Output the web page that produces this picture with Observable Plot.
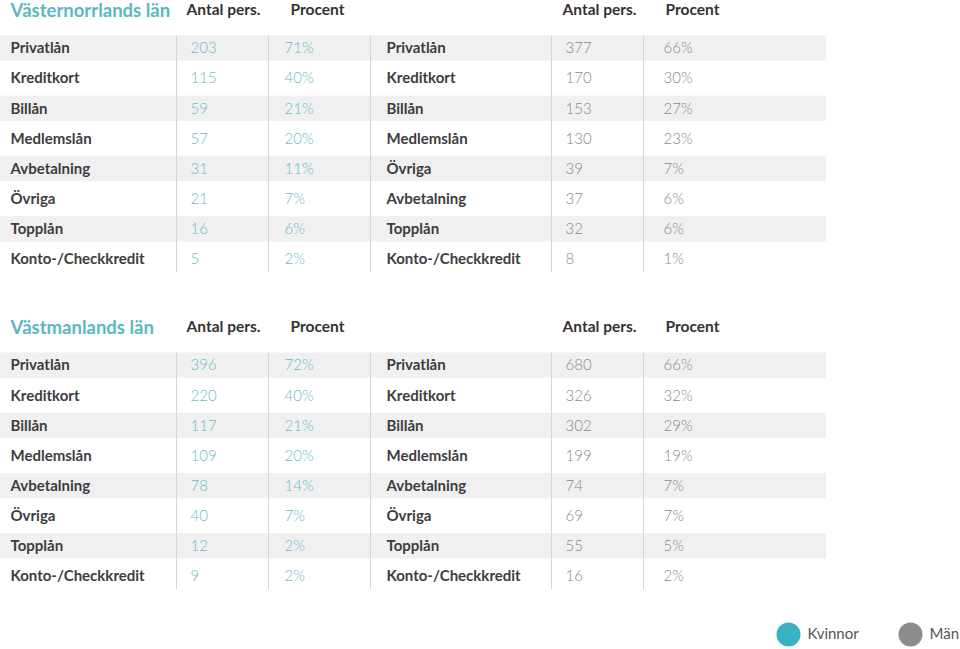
<!DOCTYPE html>
<html>
<head>
<meta charset="utf-8">
<script src="https://cdn.jsdelivr.net/npm/d3@7"></script>
<script src="https://cdn.jsdelivr.net/npm/@observablehq/plot@0.6"></script>
<style>
  html, body { margin: 0; padding: 0; background: #fff; }
  #chart svg { display: block; }
</style>
</head>
<body>
<div id="chart"></div>
<script>
// ---------- DATA ----------
const sections = ["Västernorrlands län", "Västmanlands län"];
const columnHeaders = ["Antal pers.", "Procent"];
const groups = ["Kvinnor", "Män"];

const categoriesW1 = ["Privatlån","Kreditkort","Billån","Medlemslån","Avbetalning","Övriga","Topplån","Konto-/Checkkredit"];
const antalW1 = [203, 115, 59, 57, 31, 21, 16, 5];
const pctW1   = [71, 40, 21, 20, 11, 7, 6, 2];

const categoriesM1 = ["Privatlån","Kreditkort","Billån","Medlemslån","Övriga","Avbetalning","Topplån","Konto-/Checkkredit"];
const antalM1 = [377, 170, 153, 130, 39, 37, 32, 8];
const pctM1   = [66, 30, 27, 23, 7, 6, 6, 1];

const categoriesW2 = ["Privatlån","Kreditkort","Billån","Medlemslån","Avbetalning","Övriga","Topplån","Konto-/Checkkredit"];
const antalW2 = [396, 220, 117, 109, 78, 40, 12, 9];
const pctW2   = [72, 40, 21, 20, 14, 7, 2, 2];

const categoriesM2 = ["Privatlån","Kreditkort","Billån","Medlemslån","Avbetalning","Övriga","Topplån","Konto-/Checkkredit"];
const antalM2 = [680, 326, 302, 199, 74, 69, 55, 16];
const pctM2   = [66, 32, 29, 19, 7, 7, 5, 2];

// ---------- LAYOUT (not data) ----------
const colX = {
  Kvinnor: {label: 10, antal: 190, pct: 284, hAntal: 186, hPct: 290, lines: [176, 268]},
  Män:     {label: 386, antal: 565, pct: 663, hAntal: 562, hPct: 665, lines: [551, 643]}
};
const midLine = 370;
const stripeEnd = 826;
const sectionOffset = [0, 10.52];  // in row units
const headerOffset = -1.29;
const titleOffset = -1.24;
const legendRow = 19.44;
const colors = {title: "#5bb8c1", kv: "#6bbdc6", man: "#8a8a8a", label: "#3d3d3d", head: "#333", stripe: "#f0f0f0", line: "#c8dbe4"};

// ---------- BUILD TABLE ----------
const tables = [
  {s: 0, g: "Kvinnor", cats: categoriesW1, antal: antalW1, pct: pctW1},
  {s: 0, g: "Män", cats: categoriesM1, antal: antalM1, pct: pctM1},
  {s: 1, g: "Kvinnor", cats: categoriesW2, antal: antalW2, pct: pctW2},
  {s: 1, g: "Män", cats: categoriesM2, antal: antalM2, pct: pctM2}
];
const cells = [];
for (const t of tables) {
  t.cats.forEach((c, i) => {
    cells.push({section: t.s, group: t.g, row: i, u: sectionOffset[t.s] + i, cat: c, antal: t.antal[i], pct: t.pct[i]});
  });
}
const stripes = [];
sections.forEach((s, si) => { for (let i = 0; i < 8; i += 2) stripes.push({u: sectionOffset[si] + i}); });
const headers = [];
sections.forEach((s, si) => {
  groups.forEach(g => {
    headers.push({u: sectionOffset[si] + headerOffset, x: colX[g].hAntal, text: columnHeaders[0]});
    headers.push({u: sectionOffset[si] + headerOffset, x: colX[g].hPct, text: columnHeaders[1]});
  });
});
const titles = sections.map((s, si) => ({u: sectionOffset[si] + titleOffset, text: s}));
const vlines = [];
sections.forEach((s, si) => {
  [...colX.Kvinnor.lines, midLine, ...colX.Män.lines].forEach(x => vlines.push({x, u1: sectionOffset[si] - 0.42, u2: sectionOffset[si] + 7.42}));
});
const legend = [
  {g: groups[0], dot: 788, tx: 807, color: "#3ab1c1"},
  {g: groups[1], dot: 910, tx: 929, color: "#8c8c8c"}
];

const font = "Lato, 'Open Sans', sans-serif";

const chart = Plot.plot({
  width: 960,
  height: 649,
  margin: 0,
  style: {fontFamily: font, background: "#fff"},
  x: {type: "linear", domain: [0, 960], range: [0, 960], axis: null},
  y: {type: "linear", domain: [-1.593, 19.94], range: [0, 649], axis: null},
  marks: [
    Plot.rect(stripes, {x1: 0, x2: stripeEnd, y1: d => d.u - 0.42, y2: d => d.u + 0.42, fill: colors.stripe}),
    Plot.link(vlines, {x1: "x", x2: "x", y1: "u1", y2: "u2", stroke: colors.line, strokeWidth: 1}),
    Plot.text(titles, {x: 10, y: "u", text: "text", textAnchor: "start", fill: colors.title, fontSize: 18.5, fontWeight: 700}),
    Plot.text(headers, {x: "x", y: "u", text: "text", textAnchor: "start", fill: colors.head, fontSize: 15.5, fontWeight: 700}),
    Plot.text(cells, {x: d => colX[d.group].label, y: "u", text: "cat", textAnchor: "start", fill: colors.label, fontSize: 15, fontWeight: 700}),
    Plot.text(cells, {x: d => colX[d.group].antal, y: "u", text: d => String(d.antal), textAnchor: "start", fill: d => d.group === "Kvinnor" ? colors.kv : colors.man, fontSize: 15, fontWeight: 300}),
    Plot.text(cells, {x: d => colX[d.group].pct, y: "u", text: d => d.pct + "%", textAnchor: "start", fill: d => d.group === "Kvinnor" ? colors.kv : colors.man, fontSize: 15, fontWeight: 300}),
    Plot.dot(legend, {x: "dot", y: legendRow, r: 12, fill: "color"}),
    Plot.text(legend, {x: "tx", y: legendRow, text: "g", textAnchor: "start", fill: "#555", fontSize: 15})
  ]
});
document.getElementById("chart").appendChild(chart);
</script>
</body>
</html>
